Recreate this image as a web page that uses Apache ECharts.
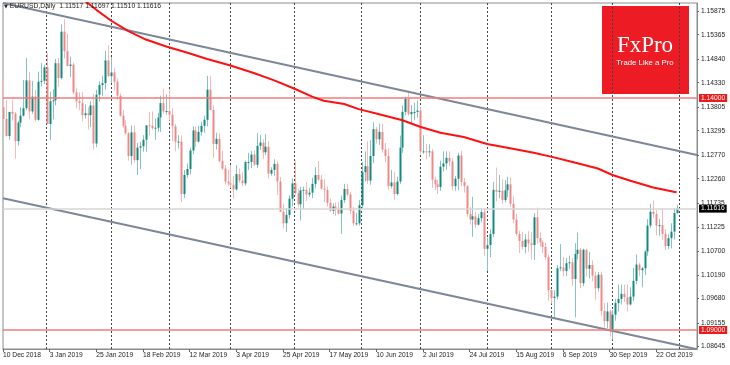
<!DOCTYPE html>
<html><head><meta charset="utf-8">
<script src="https://cdn.jsdelivr.net/npm/echarts@6/dist/echarts.min.js"></script>
<style>html,body{margin:0;padding:0;background:#fff}#c{width:730px;height:365px}</style>
</head><body><div id="c"></div>
<script>
// ---- data ----
const dates = [
"10 Dec 2018","11 Dec 2018","12 Dec 2018","13 Dec 2018","14 Dec 2018","17 Dec 2018","18 Dec 2018","19 Dec 2018","20 Dec 2018","21 Dec 2018",
"24 Dec 2018","26 Dec 2018","27 Dec 2018","28 Dec 2018","31 Dec 2018","2 Jan 2019","3 Jan 2019","4 Jan 2019","7 Jan 2019","8 Jan 2019",
"9 Jan 2019","10 Jan 2019","11 Jan 2019","14 Jan 2019","15 Jan 2019","16 Jan 2019","17 Jan 2019","18 Jan 2019","21 Jan 2019","22 Jan 2019",
"23 Jan 2019","24 Jan 2019","25 Jan 2019","28 Jan 2019","29 Jan 2019","30 Jan 2019","31 Jan 2019","1 Feb 2019","4 Feb 2019","5 Feb 2019",
"6 Feb 2019","7 Feb 2019","8 Feb 2019","11 Feb 2019","12 Feb 2019","13 Feb 2019","14 Feb 2019","15 Feb 2019","18 Feb 2019","19 Feb 2019",
"20 Feb 2019","21 Feb 2019","22 Feb 2019","25 Feb 2019","26 Feb 2019","27 Feb 2019","28 Feb 2019","1 Mar 2019","4 Mar 2019","5 Mar 2019",
"6 Mar 2019","7 Mar 2019","8 Mar 2019","11 Mar 2019","12 Mar 2019","13 Mar 2019","14 Mar 2019","15 Mar 2019","18 Mar 2019","19 Mar 2019",
"20 Mar 2019","21 Mar 2019","22 Mar 2019","25 Mar 2019","26 Mar 2019","27 Mar 2019","28 Mar 2019","29 Mar 2019","1 Apr 2019","2 Apr 2019",
"3 Apr 2019","4 Apr 2019","5 Apr 2019","8 Apr 2019","9 Apr 2019","10 Apr 2019","11 Apr 2019","12 Apr 2019","15 Apr 2019","16 Apr 2019",
"17 Apr 2019","18 Apr 2019","19 Apr 2019","22 Apr 2019","23 Apr 2019","24 Apr 2019","25 Apr 2019","26 Apr 2019","29 Apr 2019","30 Apr 2019",
"1 May 2019","2 May 2019","3 May 2019","6 May 2019","7 May 2019","8 May 2019","9 May 2019","10 May 2019","13 May 2019","14 May 2019",
"15 May 2019","16 May 2019","17 May 2019","20 May 2019","21 May 2019","22 May 2019","23 May 2019","24 May 2019","27 May 2019","28 May 2019",
"29 May 2019","30 May 2019","31 May 2019","3 Jun 2019","4 Jun 2019","5 Jun 2019","6 Jun 2019","7 Jun 2019","10 Jun 2019","11 Jun 2019",
"12 Jun 2019","13 Jun 2019","14 Jun 2019","17 Jun 2019","18 Jun 2019","19 Jun 2019","20 Jun 2019","21 Jun 2019","24 Jun 2019","25 Jun 2019",
"26 Jun 2019","27 Jun 2019","28 Jun 2019","1 Jul 2019","2 Jul 2019","3 Jul 2019","4 Jul 2019","5 Jul 2019","8 Jul 2019","9 Jul 2019",
"10 Jul 2019","11 Jul 2019","12 Jul 2019","15 Jul 2019","16 Jul 2019","17 Jul 2019","18 Jul 2019","19 Jul 2019","22 Jul 2019","23 Jul 2019",
"24 Jul 2019","25 Jul 2019","26 Jul 2019","29 Jul 2019","30 Jul 2019","31 Jul 2019","1 Aug 2019","2 Aug 2019","5 Aug 2019","6 Aug 2019",
"7 Aug 2019","8 Aug 2019","9 Aug 2019","12 Aug 2019","13 Aug 2019","14 Aug 2019","15 Aug 2019","16 Aug 2019","19 Aug 2019","20 Aug 2019",
"21 Aug 2019","22 Aug 2019","23 Aug 2019","26 Aug 2019","27 Aug 2019","28 Aug 2019","29 Aug 2019","30 Aug 2019","2 Sep 2019","3 Sep 2019",
"4 Sep 2019","5 Sep 2019","6 Sep 2019","9 Sep 2019","10 Sep 2019","11 Sep 2019","12 Sep 2019","13 Sep 2019","16 Sep 2019","17 Sep 2019",
"18 Sep 2019","19 Sep 2019","20 Sep 2019","23 Sep 2019","24 Sep 2019","25 Sep 2019","26 Sep 2019","27 Sep 2019","30 Sep 2019","1 Oct 2019",
"2 Oct 2019","3 Oct 2019","4 Oct 2019","7 Oct 2019","8 Oct 2019","9 Oct 2019","10 Oct 2019","11 Oct 2019","14 Oct 2019","15 Oct 2019",
"16 Oct 2019","17 Oct 2019","18 Oct 2019","21 Oct 2019","22 Oct 2019","23 Oct 2019","24 Oct 2019","25 Oct 2019","28 Oct 2019","29 Oct 2019",
"30 Oct 2019","31 Oct 2019"];
// empty slots to the right of the last bar (chart shift)
const futureDates = ["1 Nov 2019","4 Nov 2019","5 Nov 2019","6 Nov 2019","7 Nov 2019","8 Nov 2019","11 Nov 2019"];

// [open, high, low, close]
const ohlc = [
[1.1380,1.1442,1.1353,1.1355],[1.1355,1.1395,1.1317,1.1318],[1.1318,1.1370,1.1310,1.1370],[1.1370,1.1395,1.1351,1.1366],[1.1366,1.1370,1.1269,1.1307],
[1.1307,1.1351,1.1297,1.1347],[1.1347,1.1380,1.1337,1.1362],[1.1362,1.1439,1.1360,1.1378],[1.1378,1.1486,1.1374,1.1438],[1.1438,1.1456,1.1354,1.1371],
[1.1371,1.1437,1.1366,1.1403],[1.1403,1.1418,1.1349,1.1353],[1.1353,1.1457,1.1351,1.1435],[1.1435,1.1475,1.1425,1.1437],[1.1437,1.1472,1.1430,1.1466],
[1.1466,1.1497,1.1345,1.1344],[1.1344,1.1413,1.1309,1.1393],[1.1393,1.1419,1.1354,1.1395],[1.1395,1.1484,1.1384,1.1475],[1.1475,1.1486,1.1424,1.1443],
[1.1443,1.1559,1.1440,1.1543],[1.1543,1.1570,1.1485,1.1501],[1.1501,1.1539,1.1468,1.1469],[1.1469,1.1489,1.1445,1.1472],[1.1472,1.1476,1.1408,1.1412],
[1.1412,1.1421,1.1378,1.1393],[1.1393,1.1412,1.1374,1.1389],[1.1389,1.1413,1.1350,1.1363],[1.1363,1.1386,1.1356,1.1367],[1.1367,1.1380,1.1332,1.1363],
[1.1363,1.1393,1.1337,1.1384],[1.1384,1.1409,1.1289,1.1302],[1.1302,1.1418,1.1294,1.1407],[1.1407,1.1436,1.1392,1.1428],[1.1428,1.1448,1.1404,1.1432],
[1.1432,1.1502,1.1418,1.1481],[1.1481,1.1514,1.1446,1.1447],[1.1447,1.1488,1.1433,1.1455],[1.1455,1.1465,1.1416,1.1435],[1.1435,1.1442,1.1396,1.1405],
[1.1405,1.1410,1.1360,1.1362],[1.1362,1.1374,1.1336,1.1340],[1.1340,1.1352,1.1321,1.1324],[1.1324,1.1327,1.1265,1.1275],[1.1275,1.1341,1.1257,1.1326],
[1.1326,1.1341,1.1260,1.1266],[1.1266,1.1303,1.1234,1.1293],[1.1293,1.1305,1.1247,1.1296],[1.1296,1.1320,1.1284,1.1310],[1.1310,1.1341,1.1284,1.1341],
[1.1341,1.1370,1.1320,1.1340],[1.1340,1.1371,1.1332,1.1335],[1.1335,1.1356,1.1310,1.1336],[1.1336,1.1368,1.1327,1.1358],[1.1358,1.1405,1.1327,1.1389],
[1.1389,1.1420,1.1366,1.1371],[1.1371,1.1408,1.1364,1.1372],[1.1372,1.1419,1.1351,1.1364],[1.1364,1.1378,1.1307,1.1339],[1.1339,1.1344,1.1285,1.1306],
[1.1306,1.1320,1.1291,1.1306],[1.1306,1.1319,1.1176,1.1193],[1.1193,1.1245,1.1184,1.1234],[1.1234,1.1259,1.1228,1.1247],[1.1247,1.1293,1.1235,1.1287],
[1.1287,1.1339,1.1279,1.1330],[1.1330,1.1338,1.1294,1.1306],[1.1306,1.1340,1.1304,1.1327],[1.1327,1.1349,1.1319,1.1340],[1.1340,1.1362,1.1325,1.1353],
[1.1353,1.1448,1.1339,1.1418],[1.1418,1.1448,1.1374,1.1374],[1.1374,1.1384,1.1271,1.1301],[1.1301,1.1325,1.1289,1.1312],[1.1312,1.1324,1.1261,1.1264],
[1.1264,1.1286,1.1245,1.1248],[1.1248,1.1256,1.1213,1.1220],[1.1220,1.1245,1.1210,1.1216],[1.1216,1.1255,1.1206,1.1213],[1.1213,1.1232,1.1183,1.1203],
[1.1203,1.1255,1.1200,1.1236],[1.1236,1.1248,1.1217,1.1222],[1.1222,1.1240,1.1210,1.1216],[1.1216,1.1265,1.1211,1.1262],[1.1262,1.1282,1.1245,1.1262],
[1.1262,1.1286,1.1249,1.1278],[1.1278,1.1287,1.1254,1.1256],[1.1256,1.1324,1.1249,1.1297],[1.1297,1.1320,1.1288,1.1304],[1.1304,1.1311,1.1269,1.1283],
[1.1283,1.1322,1.1277,1.1295],[1.1295,1.1307,1.1226,1.1237],[1.1237,1.1251,1.1233,1.1245],[1.1245,1.1268,1.1232,1.1258],[1.1258,1.1263,1.1191,1.1220],
[1.1220,1.1230,1.1154,1.1155],[1.1155,1.1172,1.1119,1.1130],[1.1130,1.1163,1.1111,1.1148],[1.1148,1.1190,1.1140,1.1183],[1.1183,1.1227,1.1166,1.1216],
[1.1216,1.1265,1.1190,1.1195],[1.1195,1.1205,1.1165,1.1171],[1.1171,1.1209,1.1136,1.1201],[1.1201,1.1209,1.1160,1.1202],[1.1202,1.1218,1.1178,1.1192],
[1.1192,1.1207,1.1187,1.1196],[1.1196,1.1228,1.1184,1.1215],[1.1215,1.1251,1.1205,1.1234],[1.1234,1.1264,1.1222,1.1224],[1.1224,1.1234,1.1202,1.1205],
[1.1205,1.1225,1.1176,1.1202],[1.1202,1.1209,1.1166,1.1174],[1.1174,1.1183,1.1154,1.1157],[1.1157,1.1173,1.1150,1.1166],[1.1166,1.1175,1.1146,1.1161],
[1.1161,1.1176,1.1148,1.1151],[1.1151,1.1190,1.1107,1.1180],[1.1180,1.1215,1.1174,1.1204],[1.1204,1.1215,1.1188,1.1192],[1.1192,1.1198,1.1150,1.1157],
[1.1157,1.1165,1.1124,1.1130],[1.1130,1.1152,1.1125,1.1130],[1.1130,1.1180,1.1125,1.1169],[1.1169,1.1262,1.1163,1.1240],[1.1240,1.1285,1.1220,1.1253],
[1.1253,1.1307,1.1215,1.1222],[1.1222,1.1309,1.1213,1.1275],[1.1275,1.1348,1.1260,1.1333],[1.1333,1.1338,1.1302,1.1311],[1.1311,1.1345,1.1299,1.1327],
[1.1327,1.1345,1.1282,1.1289],[1.1289,1.1303,1.1262,1.1275],[1.1275,1.1292,1.1202,1.1210],[1.1210,1.1245,1.1205,1.1218],[1.1218,1.1241,1.1181,1.1193],
[1.1193,1.1230,1.1190,1.1220],[1.1220,1.1319,1.1215,1.1293],[1.1293,1.1384,1.1282,1.1370],[1.1370,1.1403,1.1363,1.1398],[1.1398,1.1412,1.1362,1.1365],
[1.1365,1.1385,1.1346,1.1370],[1.1370,1.1390,1.1352,1.1370],[1.1370,1.1395,1.1357,1.1373],[1.1373,1.1380,1.1280,1.1285],[1.1285,1.1320,1.1280,1.1285],
[1.1285,1.1301,1.1268,1.1283],[1.1283,1.1300,1.1273,1.1285],[1.1285,1.1290,1.1206,1.1224],[1.1224,1.1230,1.1202,1.1214],[1.1214,1.1224,1.1193,1.1208],
[1.1208,1.1265,1.1200,1.1252],[1.1252,1.1285,1.1242,1.1259],[1.1259,1.1285,1.1245,1.1271],[1.1271,1.1285,1.1253,1.1263],[1.1263,1.1270,1.1201,1.1210],
[1.1210,1.1232,1.1200,1.1226],[1.1226,1.1282,1.1201,1.1276],[1.1276,1.1286,1.1210,1.1219],[1.1219,1.1228,1.1196,1.1210],[1.1210,1.1212,1.1144,1.1150],
[1.1150,1.1165,1.1127,1.1138],[1.1138,1.1187,1.1101,1.1145],[1.1145,1.1155,1.1120,1.1127],[1.1127,1.1150,1.1125,1.1141],[1.1141,1.1162,1.1132,1.1154],
[1.1154,1.1162,1.1060,1.1075],[1.1075,1.1099,1.1027,1.1083],[1.1083,1.1117,1.1057,1.1107],[1.1107,1.1219,1.1100,1.1202],[1.1202,1.1250,1.1177,1.1198],
[1.1198,1.1234,1.1184,1.1200],[1.1200,1.1225,1.1172,1.1180],[1.1180,1.1223,1.1175,1.1201],[1.1201,1.1230,1.1186,1.1214],[1.1214,1.1229,1.1165,1.1172],
[1.1172,1.1188,1.1130,1.1138],[1.1138,1.1150,1.1103,1.1107],[1.1107,1.1114,1.1066,1.1092],[1.1092,1.1111,1.1073,1.1079],[1.1079,1.1107,1.1065,1.1095],
[1.1095,1.1113,1.1069,1.1087],[1.1087,1.1111,1.1052,1.1083],[1.1083,1.1152,1.1051,1.1143],[1.1143,1.1164,1.1085,1.1098],[1.1098,1.1110,1.1080,1.1089],
[1.1089,1.1093,1.1066,1.1079],[1.1079,1.1088,1.1052,1.1057],[1.1057,1.1062,1.0963,1.0986],[1.0986,1.0987,1.0957,1.0969],[1.0969,1.0986,1.0926,1.0972],
[1.0972,1.1040,1.0966,1.1033],[1.1033,1.1085,1.1027,1.1035],[1.1035,1.1057,1.1015,1.1027],[1.1027,1.1055,1.1016,1.1044],[1.1044,1.1060,1.1032,1.1046],
[1.1046,1.1055,1.0995,1.1010],[1.1010,1.1087,1.0927,1.1064],[1.1064,1.1110,1.1052,1.1073],[1.1073,1.1077,1.0990,1.1001],[1.1001,1.1075,1.0994,1.1073],
[1.1073,1.1075,1.1015,1.1032],[1.1032,1.1068,1.1011,1.1040],[1.1040,1.1050,1.1005,1.1017],[1.1017,1.1025,1.0965,1.0990],[1.0990,1.1025,1.0983,1.1019],
[1.1019,1.1026,1.0931,1.0941],[1.0941,1.0958,1.0905,1.0919],[1.0919,1.0959,1.0904,1.0940],[1.0940,1.0944,1.0886,1.0900],[1.0900,1.0943,1.0879,1.0933],
[1.0933,1.0967,1.0920,1.0958],[1.0958,1.0998,1.0940,1.0967],[1.0967,1.0998,1.0955,1.0978],[1.0978,1.0998,1.0960,1.0971],[1.0971,1.0998,1.0940,1.0955],
[1.0955,1.0992,1.0953,1.0972],[1.0972,1.1034,1.0962,1.1006],[1.1006,1.1063,1.0999,1.1041],[1.1041,1.1045,1.1016,1.1029],[1.1029,1.1036,1.0992,1.1033],
[1.1033,1.1072,1.1018,1.1069],[1.1069,1.1139,1.1060,1.1125],[1.1125,1.1172,1.1120,1.1155],[1.1155,1.1179,1.1142,1.1150],[1.1150,1.1158,1.1104,1.1125],
[1.1125,1.1139,1.1103,1.1126],[1.1126,1.1163,1.1094,1.1107],[1.1107,1.1117,1.1072,1.1081],[1.1081,1.1106,1.1074,1.1098],[1.1098,1.1130,1.1076,1.1112],
[1.1112,1.1163,1.1095,1.1152],[1.11517,1.11697,1.11510,1.11616]];

// moving average (red), read at sample bars: [bar index, price]
const maPoints = [[26,1.1618],[28,1.1610],[32,1.1590],[37,1.1567],[43,1.1544],[49,1.1526],[56,1.1511],[63,1.1498],[70,1.1484],[78,1.1470],
[86,1.1454],[93,1.1438],[100,1.1420],[106,1.1403],[110,1.1394],[117,1.1387],[122,1.1376],[129,1.1365],[137,1.1352],[143,1.1338],[150,1.1325],
[158,1.1316],[166,1.1301],[173,1.1293],[182,1.1282],[189,1.1272],[196,1.1261],[204,1.1248],[209,1.1234],[216,1.1220],[223,1.1207],[230,1.1198],[231,1.1197]];

// channel trend lines: [bar index, price]
const upperChannel = [[0,1.16047],[238,1.12772]];
const lowerChannel = [[0,1.11840],[238,1.08584]];

const levelLines = [1.14000, 1.09000];
const lastPrice = 1.11616;
const yTicks = [1.15875,1.15365,1.14840,1.14330,1.13805,1.13295,1.12770,1.12260,1.11735,1.11225,1.10700,1.10190,1.09680,1.09155,1.08645];
const headerText = 'EURUSD,Daily  1.11517 1.11697 1.11510 1.11616';
const yMin = 1.085905, yMax = 1.160474;

// ---- chart ----
const cats = dates.concat(futureDates);
const FONT = '"Liberation Sans", Arial, sans-serif';
const monthOf = s => s.split(' ')[1];
const isMonthStart = i => i > 0 && monthOf(cats[i]) !== monthOf(cats[i - 1]);
const isLabel = i => i % 16 === 0 && i < dates.length;

const candleData = ohlc.map((r, i) => [i, r[0], r[3], r[2], r[1]]);

function renderCandle(params, api) {
  const i = api.value(0), o = api.value(1), c = api.value(2), l = api.value(3), h = api.value(4);
  const pH = api.coord([i, h]), pL = api.coord([i, l]), pO = api.coord([i, o]), pC = api.coord([i, c]);
  const X = Math.round(pH[0]);
  const up = c >= o;
  const top = Math.min(pO[1], pC[1]), bot = Math.max(pO[1], pC[1]);
  return {
    type: 'group',
    children: [
      { type: 'line', shape: { x1: X + 0.5, y1: pH[1], x2: X + 0.5, y2: pL[1] },
        style: { stroke: up ? '#86c5bf' : '#f7b8b8', lineWidth: 1 } },
      { type: 'rect', shape: { x: X - 0.5, y: top, width: 2, height: Math.max(bot - top, 1) },
        style: { fill: up ? '#138a7f' : '#f08888' } }
    ]
  };
}

const lvlLabel = (bg) => ({
  show: true, position: 'end', distance: 2,
  formatter: p => Number(p.value).toFixed(5),
  color: '#fff', backgroundColor: bg, padding: [1, 2, 0, 2],
  fontSize: 6.7, fontFamily: FONT, lineHeight: 7
});

const chart = echarts.init(document.getElementById('c'), null, { renderer: 'canvas' });
chart.setOption({
  animation: false,
  backgroundColor: '#fff',
  title: {
    text: '{t|▼} ' + headerText, left: 4, top: 3, padding: 0,
    textStyle: { fontSize: 6.8, fontWeight: 'normal', color: '#222', fontFamily: FONT,
      rich: { t: { fontSize: 5, color: '#222', fontFamily: '"DejaVu Sans"' } } }
  },
  grid: { left: 2.5, right: 33, top: 3, bottom: 16, show: true, borderColor: '#8c8c8c', borderWidth: 1 },
  xAxis: {
    type: 'category', data: cats, boundaryGap: false,
    axisLine: { show: true, lineStyle: { color: '#8c8c8c', width: 1 } },
    axisTick: { show: true, interval: isLabel, length: 3, inside: false, lineStyle: { color: '#666' } },
    axisLabel: { interval: isLabel, align: 'left', margin: 3, fontSize: 6.7, color: '#222', fontFamily: FONT, hideOverlap: false },
    splitLine: { show: true, interval: isMonthStart, lineStyle: { color: '#444', width: 1, type: [2, 2] } }
  },
  yAxis: {
    type: 'value', position: 'right', min: yMin, max: yMax, scale: true,
    axisLine: { show: true, lineStyle: { color: '#8c8c8c', width: 1 } },
    axisTick: { show: true, length: 2, customValues: yTicks, lineStyle: { color: '#666' } },
    axisLabel: { customValues: yTicks, margin: 4, fontSize: 6.7, color: '#222', fontFamily: FONT, formatter: v => v.toFixed(5) },
    splitLine: { show: false }
  },
  series: [
    { type: 'custom', renderItem: renderCandle, data: candleData, encode: { x: 0, y: [1, 2, 3, 4] }, clip: true, z: 3, silent: true,
      markLine: { symbol: 'none', silent: true, animation: false, precision: 5,
        data: [{ yAxis: lastPrice, lineStyle: { color: '#d6d6d6', width: 1.5, type: 'solid' }, label: lvlLabel('#000') }] } },
    { type: 'line', data: upperChannel, symbol: 'none', lineStyle: { color: '#7d8797', width: 2 }, z: 4, silent: true, clip: true },
    { type: 'line', data: lowerChannel, symbol: 'none', lineStyle: { color: '#7d8797', width: 2 }, z: 4, silent: true, clip: true },
    { type: 'line', data: maPoints, symbol: 'none', lineStyle: { color: '#ff1010', width: 2 }, z: 5, silent: true, clip: true,
      markLine: { symbol: 'none', silent: true, animation: false, precision: 5,
        data: levelLines.map(v => ({ yAxis: v, lineStyle: { color: '#f47a7a', width: 1.5, type: 'solid' }, label: lvlLabel('#ef1b1b') })) } }
  ],
  graphic: [{
    type: 'group', left: 602, top: 6, z: 100,
    children: [
      { type: 'rect', shape: { x: 0, y: 0, width: 87, height: 88 }, style: { fill: '#ed1c24' } },
      { type: 'text', x: 43, y: 39.7, style: { text: 'FxPro', fill: '#fff', fontSize: 23, fontFamily: '"Liberation Serif", "DejaVu Serif", serif', align: 'center', verticalAlign: 'middle' } },
      { type: 'text', x: 43, y: 56.4, style: { text: 'Trade Like a Pro', fill: '#fff', fontSize: 7.8, fontFamily: FONT, align: 'center', verticalAlign: 'middle' } }
    ]
  }]
});
</script>
</body></html>
